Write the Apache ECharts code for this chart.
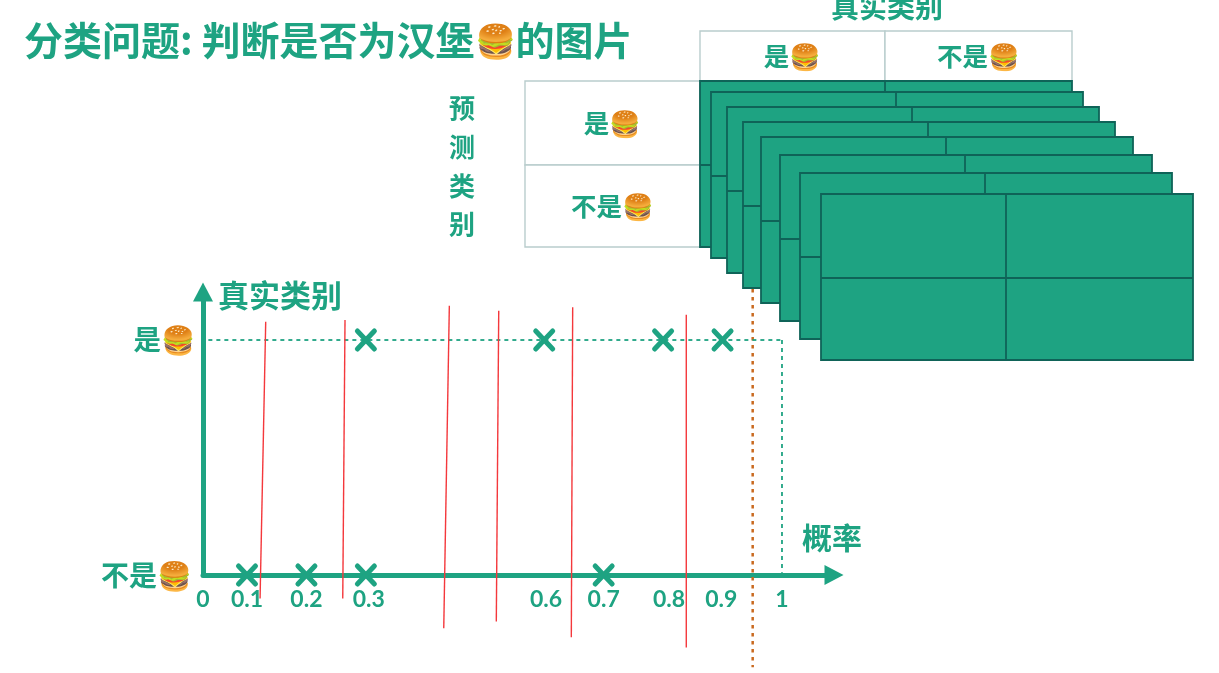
<!DOCTYPE html>
<html><head><meta charset="utf-8">
<style>html,body{margin:0;padding:0;background:#fff}#c{width:1219px;height:673px}</style>
<script src="https://cdn.jsdelivr.net/npm/echarts@6/dist/echarts.min.js"></script>
</head><body><div id="c"></div>
<script>
// ---- data ----
const titleText = '分类问题: 判断是否为汉堡{e|🍔}的图片';
const positivesX = [0.3, 0.6, 0.8, 0.9];
const negativesX = [0.1, 0.2, 0.3, 0.7];
const tickPositions = [0.026, 0.1, 0.2, 0.305, 0.603, 0.7, 0.81, 0.898, 1];
const tickLabels = ['0', '0.1', '0.2', '0.3', '0.6', '0.7', '0.8', '0.9', '1'];
const yTickLabels = ['不是🍔', '是🍔'];
const thresholds = [
  [0.1315, 1.078, 0.122, -0.100],
  [0.2649, 1.085, 0.2611, -0.100],
  [0.4404, 1.146, 0.4310, -0.227],
  [0.5235, 1.125, 0.5194, -0.198],
  [0.6479, 1.139, 0.6456, -0.265],
  [0.8390, 1.107, 0.8390, -0.308]
];
const finalThreshold = [[0.9507, 1.217, 0.9507, -0.393]];
const guides = [[0.035, 1, 1, 1], [1, 1, 1, 0.01]];
// stacked confusion matrices in overlay units: left, top
const matrixLefts = [700, 711, 727, 743, 761, 780, 800, 821];
const matrixTops = [81, 92, 107, 122, 137, 155, 173, 194];
const matrixW = 372, matrixH = 166, matrixSplitX = 185, matrixSplitY = 84;
// header cells: x1, y1, x2, y2, label
const headerCells = [
  [700, 31, 885, 81, '是🍔'],
  [885, 31, 1072, 81, '不是🍔'],
  [525, 81, 700, 165, '是🍔'],
  [525, 165, 700, 247, '不是🍔']
];
const sideTexts = [
  [887, 7, '真实类别', 28],
  [462, 108, '预', 26], [462, 147, '测', 26], [462, 186, '类', 26], [462, 224, '别', 26]
];
const green = '#1EA382', dark = '#0F6358', cellLine = '#B9CDCD', red = '#F4383C', orange = '#C9691F';
const font = '"Noto Sans CJK SC","Noto Sans",sans-serif';

function segRender(style) {
  return function (p, api) {
    const a = api.coord([api.value(0), api.value(1)]), b = api.coord([api.value(2), api.value(3)]);
    return { type: 'line', shape: { x1: a[0], y1: a[1], x2: b[0], y2: b[1] }, style: style };
  };
}
function crossRender(p, api) {
  const c = api.coord([api.value(0), api.value(1)]), r = 8.5;
  const st = { stroke: green, lineWidth: 5, lineCap: 'round', fill: null };
  return { type: 'group', children: [
    { type: 'line', shape: { x1: c[0]-r, y1: c[1]-r-0.5, x2: c[0]+r, y2: c[1]+r+0.5 }, style: st },
    { type: 'line', shape: { x1: c[0]-r, y1: c[1]+r+0.5, x2: c[0]+r, y2: c[1]-r-0.5 }, style: st }
  ]};
}
function matrixRender(p, api) {
  const l = api.value(0), t = api.value(1);
  const a = api.coord([l, t]), b = api.coord([l + matrixW, t + matrixH]);
  const sx = api.coord([l + matrixSplitX, t])[0], sy = api.coord([l, t + matrixSplitY])[1];
  const s = { stroke: dark, lineWidth: 1.8, fill: null };
  return { type: 'group', children: [
    { type: 'rect', shape: { x: a[0], y: a[1], width: b[0]-a[0], height: b[1]-a[1] }, style: { fill: green, stroke: dark, lineWidth: 1.8 } },
    { type: 'line', shape: { x1: sx, y1: a[1], x2: sx, y2: b[1] }, style: s },
    { type: 'line', shape: { x1: a[0], y1: sy, x2: b[0], y2: sy }, style: s }
  ]};
}
function cellRender(p, api) {
  const a = api.coord([api.value(0), api.value(1)]), b = api.coord([api.value(2), api.value(3)]);
  return { type: 'group', children: [
    { type: 'rect', shape: { x: a[0], y: a[1], width: b[0]-a[0], height: b[1]-a[1] }, style: { fill: '#fff', stroke: cellLine, lineWidth: 1.4 } },
    { type: 'text', style: { x: (a[0]+b[0])/2, y: (a[1]+b[1])/2, text: api.value(4), fill: green, font: 'bold 25.5px ' + font, align: 'center', verticalAlign: 'middle' } }
  ]};
}
function textRender(p, api) {
  const a = api.coord([api.value(0), api.value(1)]);
  return { type: 'text', style: { x: a[0], y: a[1], text: api.value(2), fill: green, font: 'bold ' + api.value(3) + 'px ' + font, align: 'center', verticalAlign: 'middle' } };
}

const chart = echarts.init(document.getElementById('c'), null, { renderer: 'canvas' });
chart.setOption({
  backgroundColor: '#fff',
  animation: false,
  title: { text: titleText, left: 24, top: 21, padding: 0,
    textStyle: { color: green, fontFamily: font, fontWeight: 'bold', fontSize: 39,
      rich: { e: { fontFamily: font, fontSize: 33, color: green } } } },
  grid: [
    { left: 203, top: 292, width: 631, height: 283 },
    { left: 0, top: 0, width: 1219, height: 673 }
  ],
  xAxis: [
    { type: 'value', gridIndex: 0, min: 0.026, max: 1.0875, splitLine: { show: false },
      axisLine: { onZero: false, lineStyle: { color: green, width: 5 }, symbol: ['none', 'triangle'], symbolSize: [20, 19], symbolOffset: [0, 0] },
      axisTick: { show: false },
      axisLabel: { customValues: tickPositions, margin: 13, color: green, fontFamily: 'Lato', fontWeight: 'bold', fontSize: 23,
        formatter: v => tickLabels[tickPositions.indexOf(v)] },
      name: '概率', nameLocation: 'end', nameGap: -32,
      nameTextStyle: { color: green, fontFamily: font, fontWeight: 'bold', fontSize: 30, verticalAlign: 'bottom', padding: [0, 0, 22, 0] } },
    { type: 'value', gridIndex: 1, min: 0, max: 1219, show: false }
  ],
  yAxis: [
    { type: 'value', gridIndex: 0, min: 0, max: 1.2043, splitLine: { show: false },
      axisLine: { onZero: false, lineStyle: { color: green, width: 5 }, symbol: ['none', 'triangle'], symbolSize: [20, 19], symbolOffset: [0, 0] },
      axisTick: { show: false },
      axisLabel: { customValues: [0, 1], margin: 8, color: green,
        formatter: v => (v ? '{p|' : '{n|') + yTickLabels[v] + '}',
        rich: {
          p: { color: green, fontFamily: font, fontWeight: 'bold', fontSize: 27.5 },
          n: { color: green, fontFamily: font, fontWeight: 'bold', fontSize: 28, padding: [0, 3, 0, 0] }
        } },
      name: '真实类别', nameLocation: 'end', nameGap: -3,
      nameTextStyle: { color: green, fontFamily: font, fontWeight: 'bold', fontSize: 31, align: 'left', verticalAlign: 'middle', padding: [0, 0, 0, 15] } },
    { type: 'value', gridIndex: 1, min: 0, max: 673, inverse: true, show: false }
  ],
  series: [
    { type: 'custom', name: 'final threshold', xAxisIndex: 0, yAxisIndex: 0, z: 2, data: finalThreshold,
      renderItem: segRender({ stroke: orange, lineWidth: 2.5, lineDash: [3.5, 4.5] }) },
    { type: 'custom', name: 'guides', xAxisIndex: 0, yAxisIndex: 0, z: 2, data: guides,
      renderItem: segRender({ stroke: green, lineWidth: 1.8, lineDash: [4, 4] }) },
    { type: 'custom', name: 'cells', xAxisIndex: 1, yAxisIndex: 1, z: 3, data: headerCells, renderItem: cellRender },
    { type: 'custom', name: 'matrices', xAxisIndex: 1, yAxisIndex: 1, z: 4, data: matrixLefts.map((l, i) => [l, matrixTops[i]]), renderItem: matrixRender },
    { type: 'custom', name: 'texts', xAxisIndex: 1, yAxisIndex: 1, z: 4, data: sideTexts, renderItem: textRender },
    { type: 'custom', name: '是', xAxisIndex: 0, yAxisIndex: 0, z: 5, data: positivesX.map(x => [x, 1]), renderItem: crossRender },
    { type: 'custom', name: '不是', xAxisIndex: 0, yAxisIndex: 0, z: 5, data: negativesX.map(x => [x, 0]), renderItem: crossRender },
    { type: 'custom', name: 'thresholds', xAxisIndex: 0, yAxisIndex: 0, z: 6, data: thresholds,
      renderItem: segRender({ stroke: red, lineWidth: 1.4 }) }
  ]
});
</script></body></html>
